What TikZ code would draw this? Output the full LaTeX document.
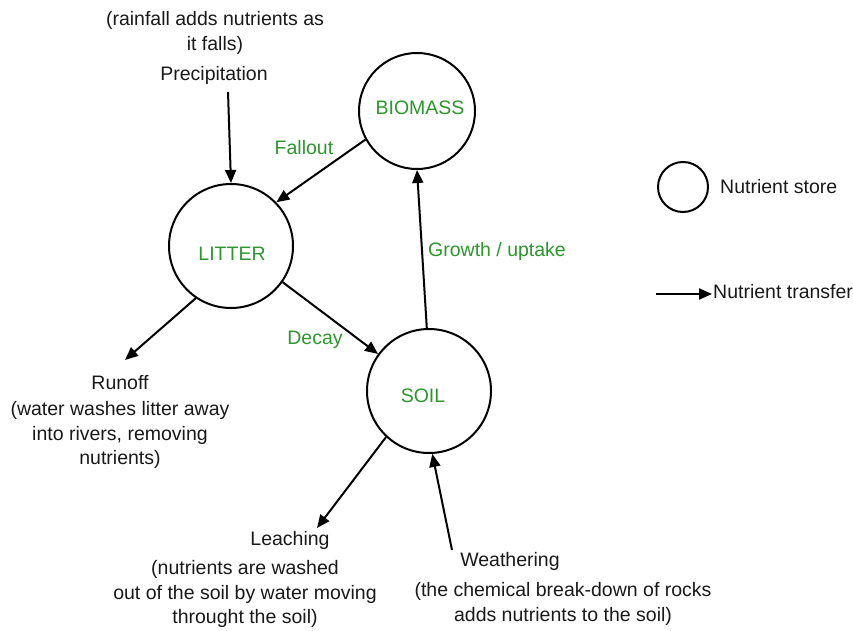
\documentclass[tikz,border=0pt]{standalone}
\usepackage{fontspec}
\setmainfont{Liberation Sans}
\usetikzlibrary{arrows.meta}
\definecolor{lblgreen}{RGB}{45,150,45}
\definecolor{txtgray}{RGB}{25,25,25}
\begin{document}
\begin{tikzpicture}[x=1pt,y=-1pt,
  every node/.style={font=\fontsize{19.5}{24.5}\selectfont, text=txtgray},
  store/.style={circle, draw=black, line width=2pt, inner sep=0pt, text=lblgreen},
  flow/.style={line width=2pt, -{Triangle[length=13pt,width=11pt]}},
  note/.style={align=center, inner sep=0pt},
  glabel/.style={inner sep=0pt, text=lblgreen}]
\useasboundingbox (0,0) rectangle (853,631);
% stores
\node[store, minimum size=116pt] (biomass) at (417,111) {};
\node[store, minimum size=124pt] (litter) at (231,246) {};
\node[store, minimum size=124pt] (soil) at (429,391) {};
\node[glabel] (tbio) at (420,108) {BIOMASS};
\node[glabel] (tlit) at (232,254) {LITTER};
\node[glabel] (tsoil) at (423,396) {SOIL};
% texts
\node[note] (rain) at (215,33) {(rainfall adds nutrients as\\it falls)};
\node[note] (precip) at (214,75) {Precipitation};
\node[glabel] (fallout) at (304,148) {Fallout};
\node[glabel] (growth) at (497,251) {Growth / uptake};
\node[glabel] (decay) at (315,340) {Decay};
\node[note] (runoff) at (120,383) {Runoff};
\node[note] (runoffd) at (120,435) {(water washes litter away\\into rivers, removing\\nutrients)};
\node[note] (leach) at (290,540) {Leaching};
\node[note] (leachd) at (245,594) {(nutrients are washed\\out of the soil by water moving\\throught the soil)};
\node[note] (weath) at (510,561) {Weathering};
\node[note] (weathd) at (563,604) {(the chemical break-down of rocks\\adds nutrients to the soil)};
% free ends
\coordinate (pstart) at (228,92);
\coordinate (rend) at (125,360);
\coordinate (lend) at (317,528);
\coordinate (wstart) at (452,550);
% connectors
\draw[flow] (pstart) -- (litter.90);
\draw[flow] (biomass.209) -- (litter.44);
\draw[flow] (soil.92) -- (biomass.270);
\draw[flow] (litter.325) -- (soil.144);
\draw[flow] (litter.236) -- (rend);
\draw[flow] (soil.227) -- (lend);
\draw[flow] (wstart) -- (soil.273);
% legend
\node[circle, draw=black, line width=2pt, minimum size=50pt, inner sep=0pt] (legc) at (683,187) {};
\node[anchor=west, inner sep=0pt] (legct) at (720,187) {Nutrient store};
\coordinate (la1) at (656,294);
\coordinate (la2) at (712,294);
\draw[flow] (la1) -- (la2);
\node[anchor=west, inner sep=0pt] (legat) at (713,292) {Nutrient transfer};
\end{tikzpicture}
\end{document}
